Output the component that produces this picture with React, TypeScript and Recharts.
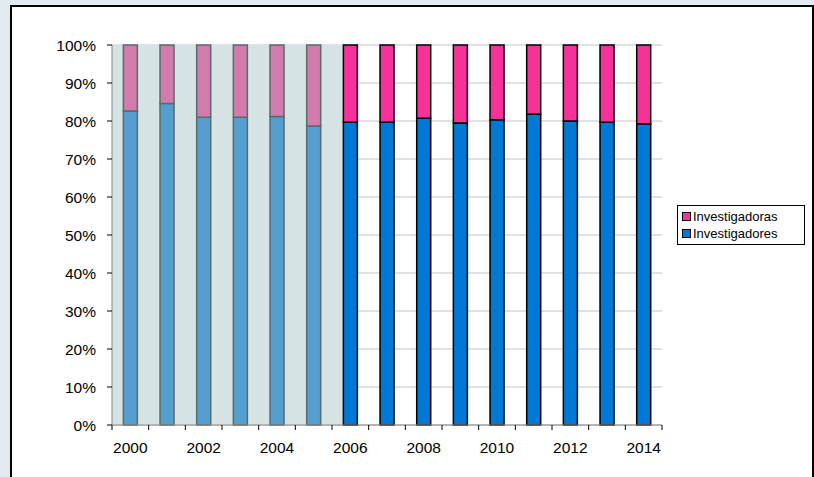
import { BarChart, Bar, XAxis, YAxis, CartesianGrid, ReferenceArea, Cell } from "recharts";

const years = ["2000","2001","2002","2003","2004","2005","2006","2007","2008","2009","2010","2011","2012","2013","2014"];
const investigadores = [82.6, 84.6, 81.0, 81.0, 81.2, 78.7, 79.7, 79.7, 80.7, 79.5, 80.3, 81.8, 80.0, 79.7, 79.3];
const investigadoras = [17.4, 15.4, 19.0, 19.0, 18.8, 21.3, 20.3, 20.3, 19.3, 20.5, 19.7, 18.2, 20.0, 20.3, 20.7];
const yTicks = [0, 10, 20, 30, 40, 50, 60, 70, 80, 90, 100];
const oldYears = 6;

const data = years.map((y, i) => ({ year: y, hombres: investigadores[i], mujeres: investigadoras[i] }));

const BW = 550 / 15;
const font = "Liberation Sans, Arial, sans-serif";

const XTick = (props: any) => {
  const { x, y, index, payload } = props;
  return (
    <g>
      <line x1={x - BW / 2} x2={x - BW / 2} y1={y} y2={y + 5} stroke="#000" />
      {index === years.length - 1 && <line x1={x + BW / 2} x2={x + BW / 2} y1={y} y2={y + 5} stroke="#000" />}
      {index % 2 === 0 && (
        <text x={x} y={y + 28} textAnchor="middle" fontSize={15.5} fill="#000">{payload.value}</text>
      )}
    </g>
  );
};

const Shade = (props: any) => {
  const { x, y, width, height } = props;
  return <rect x={x} y={y} width={width + BW / 2} height={height} fill="#d5e3e5" />;
};

export default function App() {
  return (
    <div style={{ position: "fixed", left: 0, top: 0, width: 814, height: 477, background: "#e2e9ef", fontFamily: font }}>
      <div style={{ position: "absolute", left: 10, top: 5, width: 800, height: 480, background: "#fff", border: "2px solid #000" }}>
        <BarChart width={798} height={470} data={data} margin={{ top: 38, right: 148, left: 40, bottom: 22 }} barCategoryGap="31%">
          <ReferenceArea x1={years[0]} x2={years[oldYears - 1]} y1={0} y2={100} shape={<Shade />} ifOverflow="visible" />
          <CartesianGrid vertical={false} stroke="#c4c4c4" />
          <XAxis dataKey="year" interval={0} tickLine={false} tickSize={0} tickMargin={0} stroke="#888" tick={<XTick />} height={30} />
          <YAxis domain={[0, 100]} ticks={yTicks} tickFormatter={(v) => `${v}%`} width={60} stroke="#888"
            tick={{ fill: "#000", fontSize: 15.5 }} tickLine={{ stroke: "#000" }} tickSize={5} tickMargin={11} />
          <Bar dataKey="hombres" stackId="a" isAnimationActive={false}>
            {data.map((d, i) => (
              <Cell key={d.year} fill={i < oldYears ? "#549fcf" : "#0079d6"} stroke={i < oldYears ? "#5b6b6b" : "#000"} strokeWidth={1.5} />
            ))}
          </Bar>
          <Bar dataKey="mujeres" stackId="a" isAnimationActive={false}>
            {data.map((d, i) => (
              <Cell key={d.year} fill={i < oldYears ? "#d37bad" : "#f7319a"} stroke={i < oldYears ? "#5b6b6b" : "#000"} strokeWidth={1.5} />
            ))}
          </Bar>
        </BarChart>
        <div style={{ position: "absolute", left: 665, top: 198, width: 118, padding: "2px 4px", border: "1px solid #000", fontSize: 13, lineHeight: "17px" }}>
          {[["Investigadoras", "#f7319a"], ["Investigadores", "#0079d6"]].map(([n, c]) => (
            <div key={n} style={{ display: "flex", alignItems: "center" }}>
              <span style={{ width: 7, height: 7, background: c, border: "1px solid #000", marginRight: 2 }} />
              {n}
            </div>
          ))}
        </div>
      </div>
    </div>
  );
}
